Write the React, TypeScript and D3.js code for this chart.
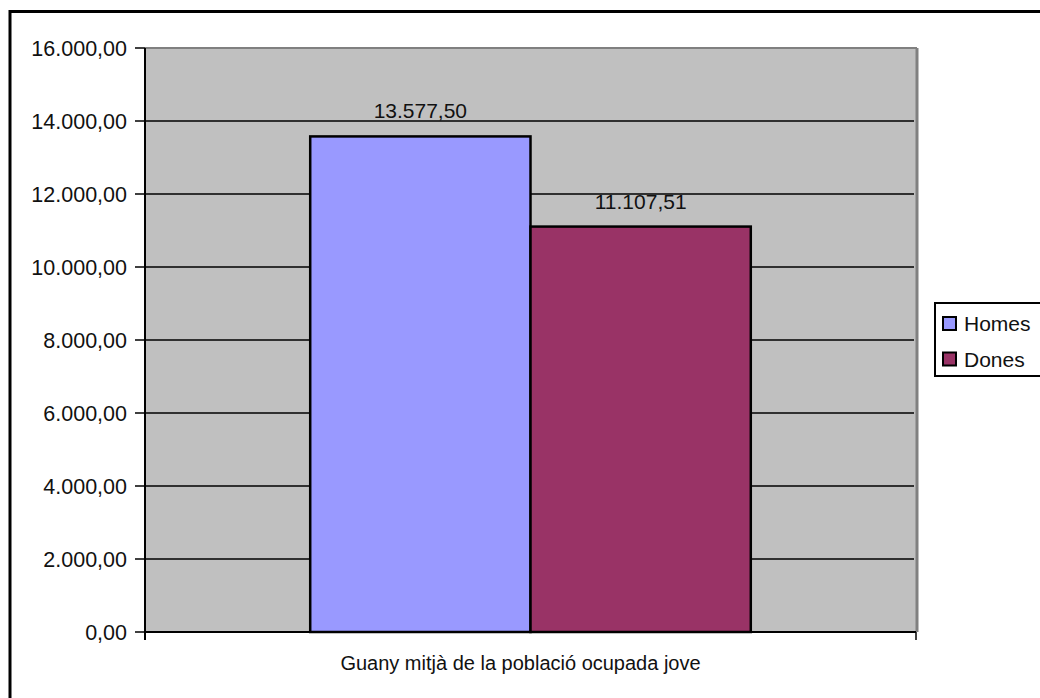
import React from 'react';
import * as d3 from 'd3';

// Data
const categories = ['Guany mitjà de la població ocupada jove'];
const seriesNames = ['Homes', 'Dones'];
const seriesValues = [13577.5, 11107.51];
const seriesColors = ['#9999FF', '#993366'];
const yTicks = [0, 2000, 4000, 6000, 8000, 10000, 12000, 14000, 16000];

const W = 1040;
const H = 698;
const FONT = '"Liberation Sans", Arial, sans-serif';

const locale = d3.formatLocale({ decimal: ',', thousands: '.', grouping: [3], currency: ['', ' €'] });
const fmt = locale.format(',.2f');

const App: React.FC = () => {
  const plot = { left: 145, right: 916, top: 48, bottom: 632 };

  const yScale = d3.scaleLinear().domain([0, 16000]).range([plot.bottom, plot.top]);
  const x0 = d3.scaleBand<string>().domain(categories).range([plot.left, plot.right]).padding(0);
  const x1 = d3.scaleBand<string>()
    .domain(seriesNames)
    .range([0, x0.bandwidth()])
    .paddingInner(0)
    .paddingOuter(0.75);

  const cat = categories[0];
  const catX = x0(cat) || 0;

  return (
    <svg
      width={W}
      height={H}
      style={{ position: 'absolute', left: 0, top: 0, background: '#fff' }}
      fontFamily={FONT}
    >
      {/* outer frame (cropped at right/bottom) */}
      <rect x={10} y={11.5} width={W + 20} height={H + 20} fill="#fff" stroke="#000" strokeWidth={3} />

      {/* plot background */}
      <rect
        x={plot.left}
        y={plot.top}
        width={plot.right - plot.left}
        height={plot.bottom - plot.top}
        fill="#C0C0C0"
      />

      {/* gridlines */}
      {yTicks.filter(t => t > 0 && t < 16000).map(t => (
        <line
          key={`g${t}`}
          x1={plot.left}
          x2={plot.right - 2}
          y1={yScale(t)}
          y2={yScale(t)}
          stroke="#000"
          strokeWidth={1.5}
        />
      ))}

      {/* plot border top/right */}
      <line x1={plot.left} x2={plot.right + 1} y1={plot.top} y2={plot.top} stroke="#808080" strokeWidth={2} />
      <line x1={plot.right + 1} x2={plot.right + 1} y1={plot.top} y2={plot.bottom} stroke="#808080" strokeWidth={3} />

      {/* bars */}
      {seriesNames.map((s, i) => {
        const bx = catX + (x1(s) || 0);
        const by = yScale(seriesValues[i]);
        return (
          <g key={s}>
            <rect
              x={bx}
              y={by}
              width={x1.bandwidth()}
              height={plot.bottom - by}
              fill={seriesColors[i]}
              stroke="#000"
              strokeWidth={2.5}
            />
            <text
              x={bx + x1.bandwidth() / 2}
              y={by - 18}
              textAnchor="middle"
              fontSize={21}
              fill="#111"
            >
              {fmt(seriesValues[i])}
            </text>
          </g>
        );
      })}

      {/* y axis */}
      <line x1={plot.left} x2={plot.left} y1={plot.top} y2={plot.bottom + 8} stroke="#000" strokeWidth={2} />
      {yTicks.map(t => (
        <g key={`t${t}`}>
          <line x1={plot.left - 10} x2={plot.left} y1={yScale(t)} y2={yScale(t)} stroke="#000" strokeWidth={1.5} />
          <text
            x={plot.left - 18}
            y={yScale(t)}
            dy="0.36em"
            textAnchor="end"
            fontSize={21.5}
            fill="#111"
          >
            {fmt(t)}
          </text>
        </g>
      ))}

      {/* x axis */}
      <line x1={plot.left} x2={plot.right} y1={plot.bottom} y2={plot.bottom} stroke="#000" strokeWidth={2} />
      {[catX, catX + x0.bandwidth()].map((x, i) => (
        <line key={`xt${i}`} x1={x} x2={x} y1={plot.bottom} y2={plot.bottom + 8} stroke="#000" strokeWidth={1.5} />
      ))}
      <text
        x={catX + x0.bandwidth() / 2 - 10}
        y={670}
        textAnchor="middle"
        fontSize={20}
        fill="#111"
      >
        {cat}
      </text>

      {/* legend */}
      <rect x={935} y={303} width={120} height={73} fill="#fff" stroke="#000" strokeWidth={2} />
      {seriesNames.map((s, i) => (
        <g key={`l${s}`} transform={`translate(943, ${317 + i * 35.5})`}>
          <rect x={0} y={0} width={13} height={13} fill={seriesColors[i]} stroke="#000" strokeWidth={2} />
          <text x={21} y={6.5} dy="0.36em" fontSize={21} fill="#111">
            {s}
          </text>
        </g>
      ))}
    </svg>
  );
};

export default App;
